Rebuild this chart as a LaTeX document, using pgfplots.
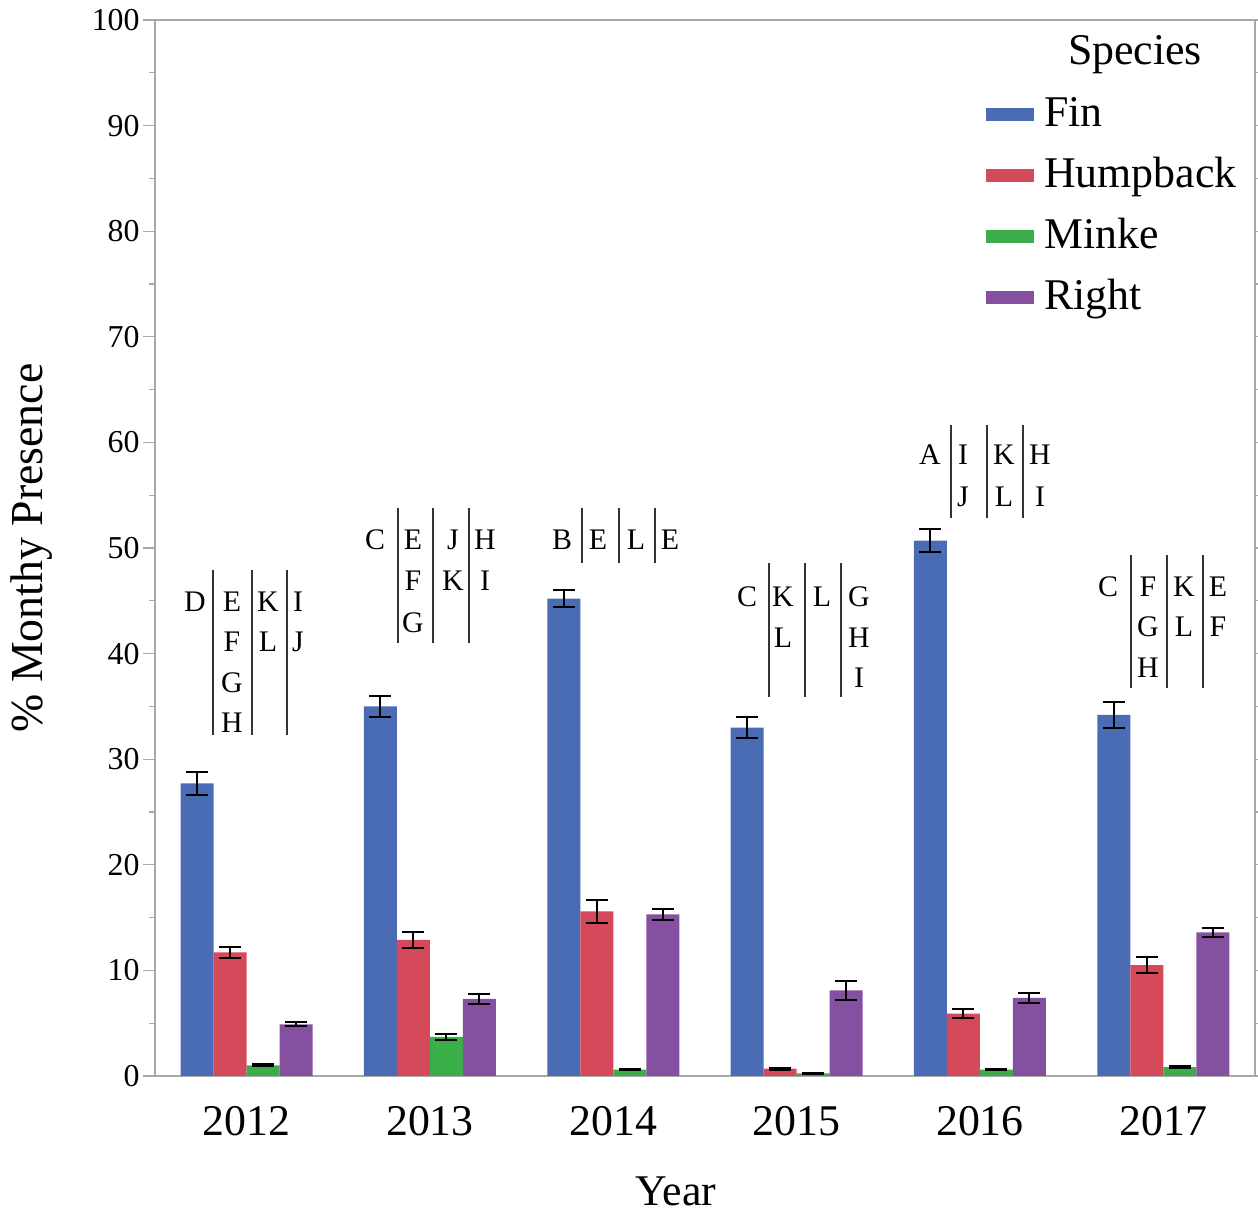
\documentclass[border=0pt]{standalone}
\usepackage{pgfplots}
\usepackage{pgfplotstable}
\pgfplotsset{compat=1.18}
\usepackage{fontspec}
\setmainfont{Liberation Serif}
\definecolor{cfin}{HTML}{4A6CB4}
\definecolor{chump}{HTML}{D54A5A}
\definecolor{cminke}{HTML}{3AAE48}
\definecolor{cright}{HTML}{8650A1}
\definecolor{axgray}{HTML}{A8A8A8}

\pgfplotstableread{
x y e
0 27.7 1.05
1 35.0 1.0
2 45.2 0.8
3 33.0 0.95
4 50.7 1.1
5 34.2 1.2
}\finT
\pgfplotstableread{
x y e
0 11.7 0.5
1 12.9 0.75
2 15.6 1.1
3 0.7 0.1
4 5.9 0.4
5 10.5 0.75
}\humpT
\pgfplotstableread{
x y e
0 1.0 0.1
1 3.7 0.3
2 0.6 0.05
3 0.25 0.05
4 0.6 0.05
5 0.85 0.05
}\minkeT
\pgfplotstableread{
x y e
0 4.9 0.2
1 7.3 0.45
2 15.3 0.5
3 8.1 0.9
4 7.4 0.5
5 13.6 0.45
}\rightT

\pgfplotsset{
  myleg/.style={legend image code/.code={\fill[##1,/tikz/.cd] (0bp,-3.25bp) rectangle (24bp,3.25bp);}},
  myerr/.style={error bars/.cd, y dir=both, y explicit,
     error bar style={black, line width=1bp},
     error mark options={rotate=90, black, line width=1bp, mark size=5.5bp}},
}
\tikzset{
  ann/.style={font=\fontsize{15}{18}\selectfont, inner sep=0pt, text height=10bp, text depth=0pt, anchor=center},
  annline/.style={black!80, line width=0.8bp},
}

\begin{document}
\begin{tikzpicture}
\begin{axis}[
  at={(0,0)}, anchor=south west,
  scale only axis, width=550bp, height=528bp,
  xmin=-0.5, xmax=5.5, ymin=0, ymax=100,
  ybar=0pt, bar width=16.5bp,
  every axis plot post/.append style={myleg},
  xtick={0,...,5}, xticklabels={2012,2013,2014,2015,2016,2017},
  ytick={0,10,...,100}, minor y tick num=1,
  tick align=outside, major tick length=6bp, minor tick length=3bp,
  xtick style={draw=none},
  ytick style={axgray, line width=0.6bp},
  axis line style={axgray, line width=0.8bp},
  /pgf/number format/assume math mode=true,
  yticklabel style={font=\fontsize{16}{19}\selectfont, inner sep=0pt, xshift=-1.5bp},
  xticklabel style={font=\fontsize{22}{26}\selectfont, inner sep=0pt, anchor=north, yshift=-9bp},
  ylabel={\% Monthy Presence},
  xlabel={Year},
  every axis y label/.style={at={(axis description cs:0,0.5)}, xshift=-61.5bp, rotate=90, anchor=center, font=\fontsize{23}{27}\selectfont},
  every axis x label/.style={at={(axis description cs:0.4736,0)}, yshift=-64.5bp, anchor=base, font=\fontsize{22}{26}\selectfont},
  legend style={at={(rel axis cs:0.7555,0.9252)}, anchor=north west, draw=none, fill=none,
     inner sep=0pt, outer sep=0pt, column sep=5bp, row sep=14.5bp,
     font=\fontsize{22}{26}\selectfont,
     nodes={inner sep=0pt, text height=14bp, text depth=2bp}},
  legend cell align=left,
]
\addplot[fill=cfin, draw=none, myerr] table[x=x, y=y, y error=e] {\finT};
\addlegendentry{Fin}
\addplot[fill=chump, draw=none, myerr] table[x=x, y=y, y error=e] {\humpT};
\addlegendentry{Humpback}
\addplot[fill=cminke, draw=none, myerr] table[x=x, y=y, y error=e] {\minkeT};
\addlegendentry{Minke}
\addplot[fill=cright, draw=none, myerr] table[x=x, y=y, y error=e] {\rightT};
\addlegendentry{Right}

\node[anchor=base, font=\fontsize{22}{26}\selectfont, inner sep=0pt] at (axis cs:4.8455,95.74) {Species};

% 2012
\node[ann] at (axis cs:-0.2818,44.98) {D};
\node[ann] at (axis cs:-0.080,44.98) {E};
\node[ann] at (axis cs:-0.080,41.19) {F};
\node[ann] at (axis cs:-0.080,37.31) {G};
\node[ann] at (axis cs:-0.080,33.43) {H};
\node[ann] at (axis cs:0.1164,44.98) {K};
\node[ann] at (axis cs:0.1164,41.19) {L};
\node[ann] at (axis cs:0.280,44.98) {I};
\node[ann] at (axis cs:0.280,41.19) {J};
\draw[annline] (axis cs:-0.1836,47.92) -- (axis cs:-0.1836,32.29);
\draw[annline] (axis cs:0.0291,47.92) -- (axis cs:0.0291,32.29);
\draw[annline] (axis cs:0.220,47.92) -- (axis cs:0.220,32.29);
% 2013
\node[ann] at (axis cs:0.700,50.76) {C};
\node[ann] at (axis cs:0.9073,50.76) {E};
\node[ann] at (axis cs:0.9073,46.88) {F};
\node[ann] at (axis cs:0.9073,42.99) {G};
\node[ann] at (axis cs:1.1255,50.76) {J};
\node[ann] at (axis cs:1.1255,46.88) {K};
\node[ann] at (axis cs:1.300,50.76) {H};
\node[ann] at (axis cs:1.300,46.88) {I};
\draw[annline] (axis cs:0.8255,53.79) -- (axis cs:0.8255,41.00);
\draw[annline] (axis cs:1.0164,53.79) -- (axis cs:1.0164,41.00);
\draw[annline] (axis cs:1.2127,53.79) -- (axis cs:1.2127,41.00);
% 2014
\node[ann] at (axis cs:1.720,50.76) {B};
\node[ann] at (axis cs:1.9164,50.76) {E};
\node[ann] at (axis cs:2.1236,50.76) {L};
\node[ann] at (axis cs:2.3091,50.76) {E};
\draw[annline] (axis cs:1.8291,53.79) -- (axis cs:1.8291,48.58);
\draw[annline] (axis cs:2.0309,53.79) -- (axis cs:2.0309,48.58);
\draw[annline] (axis cs:2.2273,53.79) -- (axis cs:2.2273,48.58);
% 2015
\node[ann] at (axis cs:2.7291,45.45) {C};
\node[ann] at (axis cs:2.9255,45.45) {K};
\node[ann] at (axis cs:2.9255,41.57) {L};
\node[ann] at (axis cs:3.1382,45.45) {L};
\node[ann] at (axis cs:3.340,45.45) {G};
\node[ann] at (axis cs:3.340,41.57) {H};
\node[ann] at (axis cs:3.340,37.69) {I};
\draw[annline] (axis cs:2.8491,48.58) -- (axis cs:2.8491,35.89);
\draw[annline] (axis cs:3.0455,48.58) -- (axis cs:3.0455,35.89);
\draw[annline] (axis cs:3.2418,48.58) -- (axis cs:3.2418,35.89);
% 2016
\node[ann] at (axis cs:3.7273,58.81) {A};
\node[ann] at (axis cs:3.9073,58.81) {I};
\node[ann] at (axis cs:3.9073,54.83) {J};
\node[ann] at (axis cs:4.1309,58.81) {K};
\node[ann] at (axis cs:4.1309,54.83) {L};
\node[ann] at (axis cs:4.3273,58.81) {H};
\node[ann] at (axis cs:4.3273,54.83) {I};
\draw[annline] (axis cs:3.8418,61.65) -- (axis cs:3.8418,52.84);
\draw[annline] (axis cs:4.0382,61.65) -- (axis cs:4.0382,52.84);
\draw[annline] (axis cs:4.2345,61.65) -- (axis cs:4.2345,52.84);
% 2017
\node[ann] at (axis cs:4.6982,46.40) {C};
\node[ann] at (axis cs:4.9164,46.40) {F};
\node[ann] at (axis cs:4.9164,42.52) {G};
\node[ann] at (axis cs:4.9164,38.64) {H};
\node[ann] at (axis cs:5.1127,46.40) {K};
\node[ann] at (axis cs:5.1127,42.52) {L};
\node[ann] at (axis cs:5.2982,46.40) {E};
\node[ann] at (axis cs:5.2982,42.52) {F};
\draw[annline] (axis cs:4.8236,49.34) -- (axis cs:4.8236,36.74);
\draw[annline] (axis cs:5.020,49.34) -- (axis cs:5.020,36.74);
\draw[annline] (axis cs:5.2164,49.34) -- (axis cs:5.2164,36.74);
\end{axis}
\pgfresetboundingbox
\useasboundingbox (-77.5bp,-68bp) rectangle (551.5bp,538bp);
\end{tikzpicture}
\end{document}
